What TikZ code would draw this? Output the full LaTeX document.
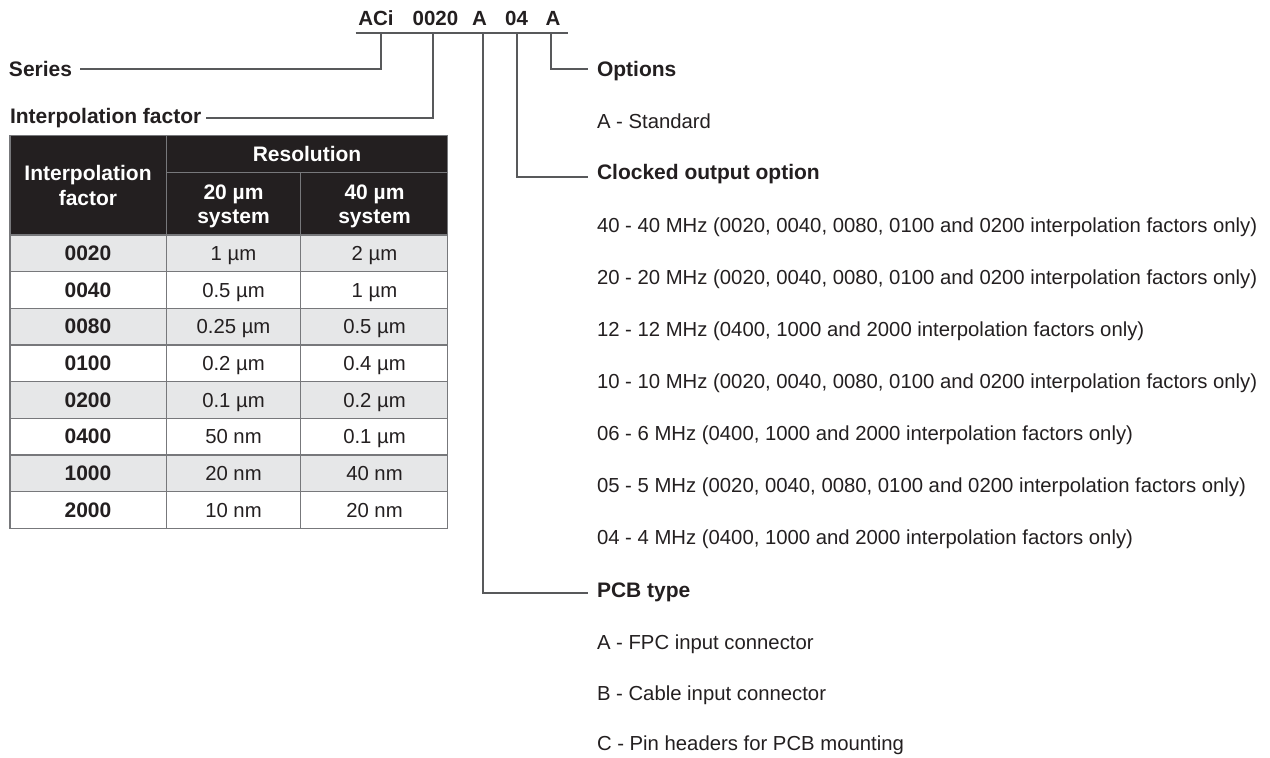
\documentclass[tikz,border=0pt]{standalone}
\usepackage{fontspec}
\setmainfont{Liberation Sans}
\definecolor{ink}{HTML}{231F20}
\definecolor{lnk}{HTML}{58595B}
\definecolor{hdr}{HTML}{231F20}
\definecolor{rowg}{HTML}{E6E7E8}
\definecolor{gridc}{HTML}{77787B}
\begin{document}
\begin{tikzpicture}[x=1pt,y=-1pt,
  reg/.style={font=\fontsize{20.3}{24}\selectfont, text=ink, inner sep=0pt, outer sep=0pt},
  bld/.style={font=\fontsize{21}{25}\selectfont\bfseries, text=ink, inner sep=0pt, outer sep=0pt},
  codetxt/.style={font=\fontsize{20.5}{24}\selectfont\bfseries, text=ink, inner sep=0pt, outer sep=0pt, anchor=base},
  hdrtxt/.style={bld, text=white, anchor=base},
  celltxt/.style={reg, anchor=base},
  cellbold/.style={bld, anchor=base},
  conn/.style={draw=lnk, line width=2pt},
  gridline/.style={draw=gridc, line width=1.3pt}]
\useasboundingbox (0,0) rectangle (1270,758);

% ---- part code ----
\node[codetxt] (cACi) at (376,25) {ACi};
\node[codetxt] (c0020) at (435.5,25) {0020};
\node[codetxt] (cA1) at (479.5,25) {A};
\node[codetxt] (c04) at (516.5,25) {04};
\node[codetxt] (cA2) at (553,25) {A};
\coordinate (ulL) at (355.7,33);
\coordinate (ulR) at (567.7,33);
\draw[conn] (ulL) -- (ulR);
\coordinate (j1) at (381,33);
\coordinate (j2) at (432.5,33);
\coordinate (j3) at (482.5,33);
\coordinate (j4) at (517,33);
\coordinate (j5) at (551,33);

% ---- left labels ----
\node[bld, anchor=base west] (series) at (9,76) {Series};
\node[bld, anchor=base west] (interp) at (10,123) {Interpolation factor};
\draw[conn] (j1) |- ([xshift=8pt,yshift=7pt]series.base east);
\draw[conn] (j2) |- ([xshift=5pt,yshift=5.3pt]interp.base east);

% ---- right labels ----
\node[bld, anchor=base west] (opt) at (597,76) {Options};
\node[reg, anchor=base west] (optA) at (597,128.3) {A - Standard};
\node[bld, anchor=base west] (clk) at (597,179.3) {Clocked output option};
\node[reg, anchor=base west] (clk40) at (597,232) {40 - 40 MHz (0020, 0040, 0080, 0100 and 0200 interpolation factors only)};
\node[reg, anchor=base west] (clk20) at (597,284) {20 - 20 MHz (0020, 0040, 0080, 0100 and 0200 interpolation factors only)};
\node[reg, anchor=base west] (clk12) at (597,336) {12 - 12 MHz (0400, 1000 and 2000 interpolation factors only)};
\node[reg, anchor=base west] (clk10) at (597,388) {10 - 10 MHz (0020, 0040, 0080, 0100 and 0200 interpolation factors only)};
\node[reg, anchor=base west] (clk06) at (597,440) {06 - 6 MHz (0400, 1000 and 2000 interpolation factors only)};
\node[reg, anchor=base west] (clk05) at (597,492) {05 - 5 MHz (0020, 0040, 0080, 0100 and 0200 interpolation factors only)};
\node[reg, anchor=base west] (clk04) at (597,544) {04 - 4 MHz (0400, 1000 and 2000 interpolation factors only)};
\node[bld, anchor=base west] (pcb) at (597,597) {PCB type};
\node[reg, anchor=base west] (pcbA) at (597,649) {A - FPC input connector};
\node[reg, anchor=base west] (pcbB) at (597,700) {B - Cable input connector};
\node[reg, anchor=base west] (pcbC) at (597,750.7) {C - Pin headers for PCB mounting};

\draw[conn] (j5) |- ([xshift=-9pt,yshift=6.7pt]opt.base west);
\draw[conn] (j4) |- ([xshift=-9pt,yshift=2.8pt]clk.base west);
\draw[conn] (j3) |- ([xshift=-9pt,yshift=3.8pt]pcb.base west);

% ---- table ----
\fill[hdr] (10,135.7) rectangle (447.7,235);
\foreach \i in {0,2,4,6}{
  \fill[rowg] (10,{235+\i*36.66}) rectangle (447.7,{235+(\i+1)*36.66});
}
\foreach \i in {0,...,8}{
  \draw[gridline] (10,{235+\i*36.66}) -- (447.7,{235+\i*36.66});
}
\draw[gridline] (166.3,172.7) -- (447.7,172.7);
\draw[gridline] (166.3,135.7) -- (166.3,528.3);
\draw[gridline] (300.7,172.7) -- (300.7,528.3);
\draw[gridline] (10,135.7) rectangle (447.7,528.3);

\node[hdrtxt] (hres) at (307,161.7) {Resolution};
\node[hdrtxt] (hif1) at (88,180) {Interpolation};
\node[hdrtxt] (hif2) at (88,205) {factor};
\node[hdrtxt] (h20a) at (233.5,199.3) {20 µm};
\node[hdrtxt] (h20b) at (233.5,223.3) {system};
\node[hdrtxt] (h40a) at (374.5,199.3) {40 µm};
\node[hdrtxt] (h40b) at (374.5,223.3) {system};

\foreach \f/\a/\b [count=\i from 0] in {0020/1 µm/2 µm, 0040/0.5 µm/1 µm, 0080/0.25 µm/0.5 µm, 0100/0.2 µm/0.4 µm, 0200/0.1 µm/0.2 µm, 0400/50 nm/0.1 µm, 1000/20 nm/40 nm, 2000/10 nm/20 nm}{
  \node[cellbold] (f\i) at (88,{235+(\i+0.5)*36.66+7.3}) {\f};
  \node[celltxt] (a\i) at (233.5,{235+(\i+0.5)*36.66+7.3}) {\a};
  \node[celltxt] (b\i) at (374.5,{235+(\i+0.5)*36.66+7.3}) {\b};
}
\end{tikzpicture}
\end{document}
